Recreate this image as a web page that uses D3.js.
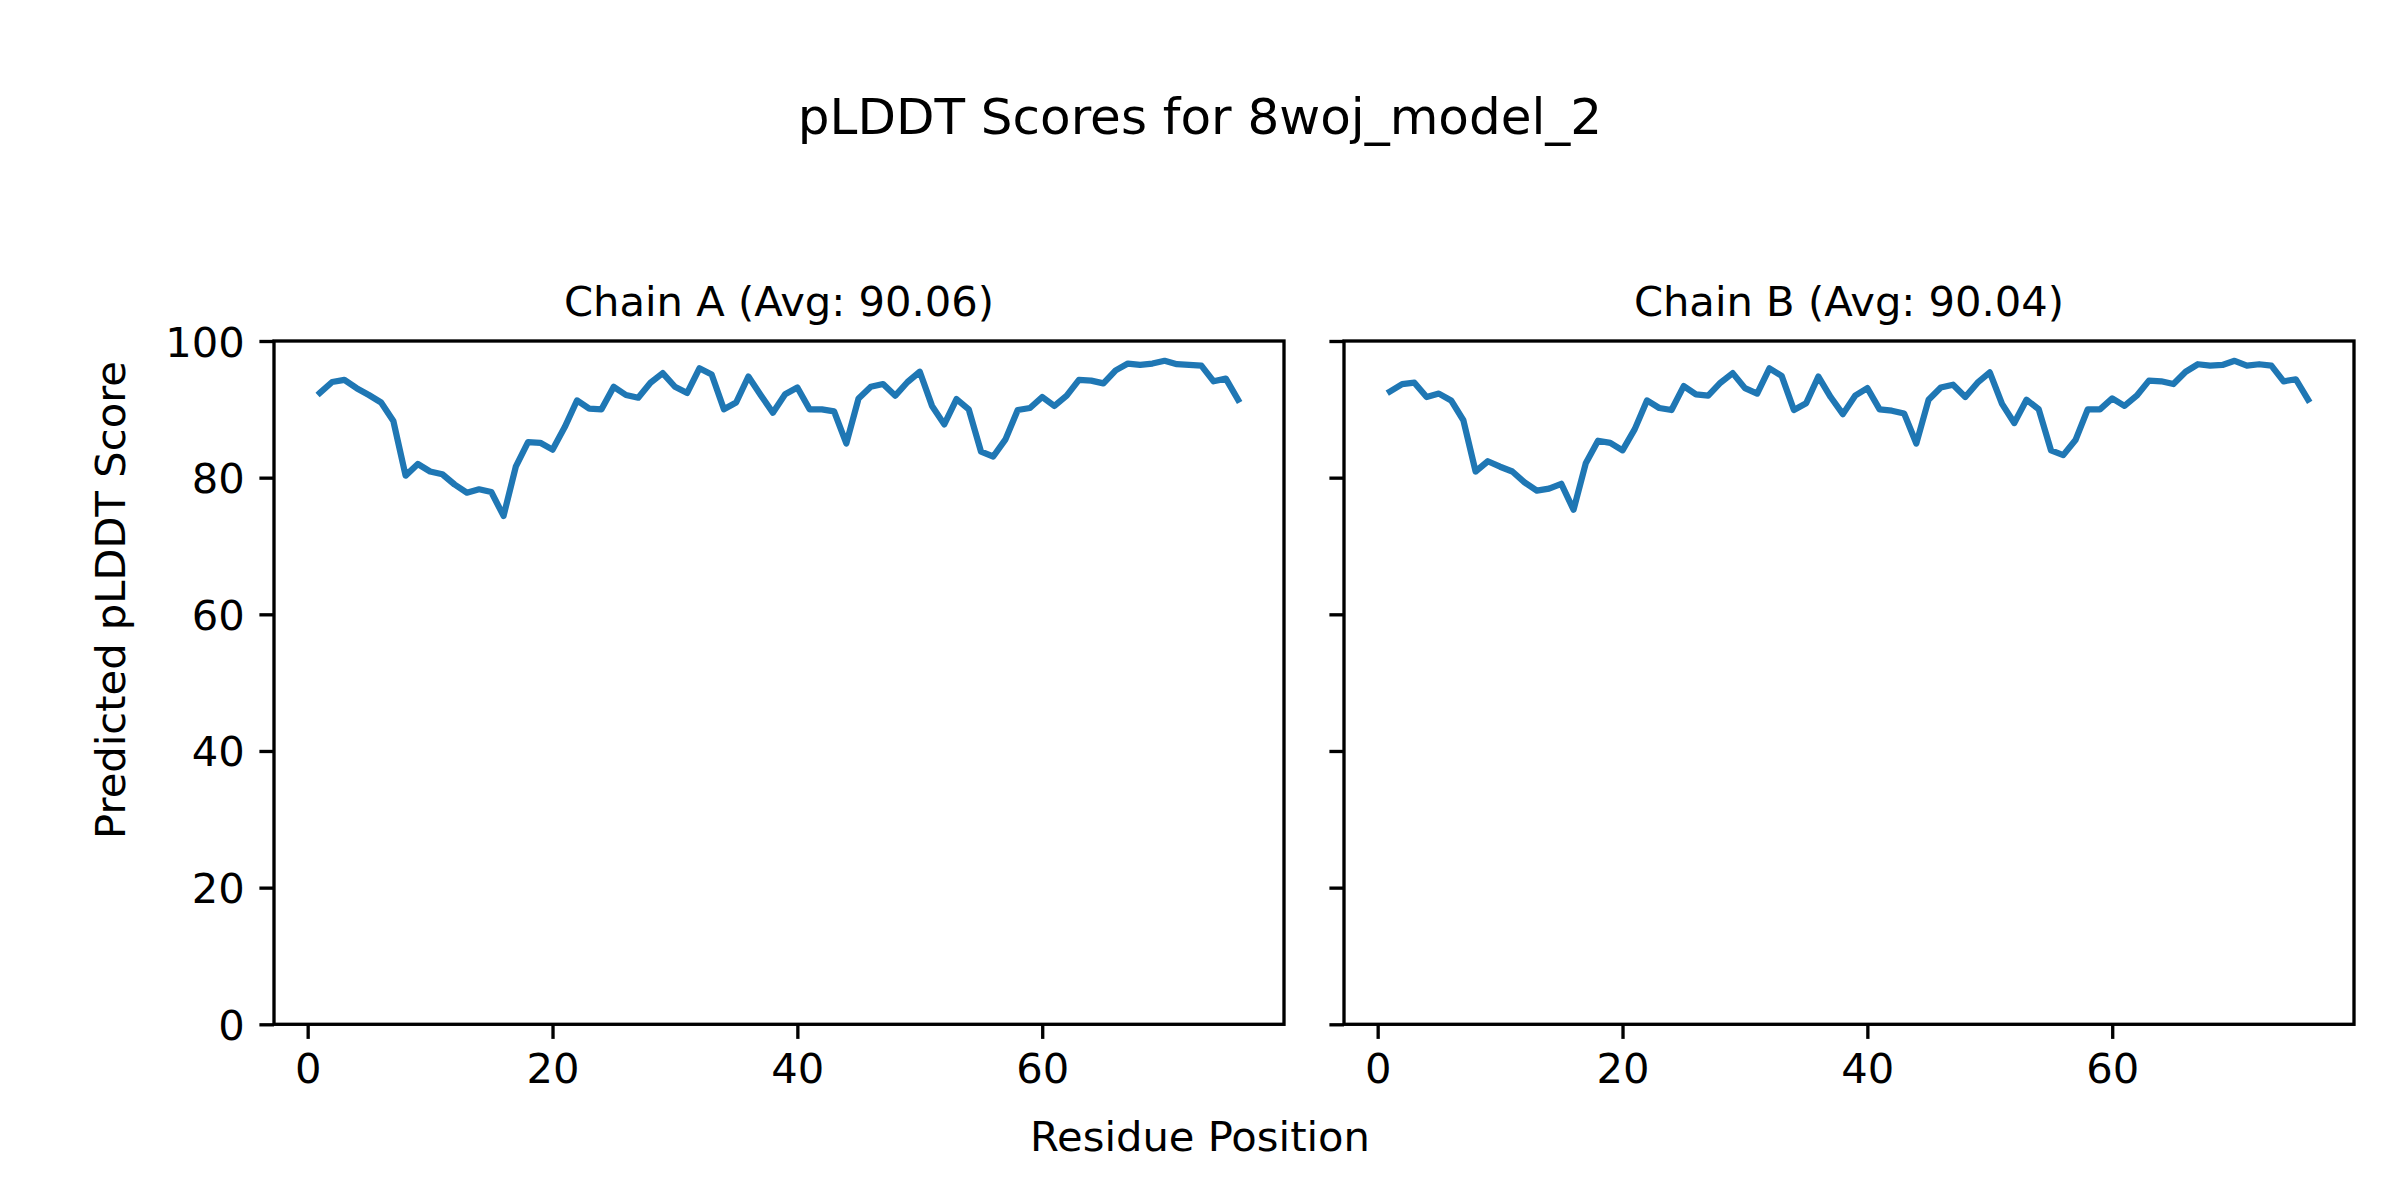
<!DOCTYPE html>
<html>
<head>
<meta charset="utf-8">
<script src="https://cdn.jsdelivr.net/npm/d3@7"></script>
<style>
  body { margin: 0; background: #fff; }
  text { font-family: "DejaVu Sans", sans-serif; fill: #000; }
</style>
</head>
<body>
<div id="container"></div>
<script>
// per-residue pLDDT (residues 1..76)
const chainA = [92.4, 94.0, 94.3, 93.1, 92.1, 91.0, 88.3, 80.3, 82.0, 80.9,
  80.5, 79.0, 77.8, 78.3, 77.9, 74.4, 81.6, 85.2, 85.1, 84.1,
  87.4, 91.3, 90.1, 90.0, 93.3, 92.1, 91.7, 93.9, 95.3, 93.3,
  92.4, 96.0, 95.1, 90.0, 91.0, 94.8, 92.1, 89.5, 92.2, 93.2,
  90.0, 90.0, 89.7, 85.0, 91.6, 93.3, 93.7, 92.0, 94.0, 95.5,
  90.5, 87.8, 91.5, 90.0, 83.8, 83.1, 85.6, 89.9, 90.2, 91.8,
  90.5, 92.0, 94.3, 94.2, 93.8, 95.7, 96.7, 96.5, 96.7, 97.1,
  96.6, 96.5, 96.4, 94.1, 94.5, 91.4];
const chainB = [92.6, 93.7, 93.9, 91.8, 92.3, 91.3, 88.4, 80.9, 82.4, 81.6,
  80.9, 79.3, 78.1, 78.4, 79.1, 75.3, 82.1, 85.4, 85.1, 84.0,
  87.1, 91.3, 90.2, 89.9, 93.4, 92.2, 92.0, 93.9, 95.3, 93.1,
  92.3, 96.0, 94.9, 89.9, 90.9, 94.8, 91.8, 89.3, 92.0, 93.1,
  90.0, 89.8, 89.4, 85.0, 91.4, 93.2, 93.6, 91.8, 93.9, 95.4,
  90.8, 88.0, 91.4, 90.0, 84.0, 83.3, 85.5, 90.0, 90.0, 91.6,
  90.5, 92.0, 94.2, 94.1, 93.7, 95.5, 96.6, 96.4, 96.5, 97.1,
  96.4, 96.6, 96.4, 94.1, 94.4, 91.4];
const chainTitles = ["Chain A (Avg: 90.06)", "Chain B (Avg: 90.04)"];
const xTicks = [0, 20, 40, 60];
const yTicks = [0, 20, 40, 60, 80, 100];

const W = 2400, H = 1200;
const lw = 3.33;      // 0.8pt at 300dpi
const tickLen = 14.6; // 3.5pt

const svg = d3.select("#container").append("svg")
  .attr("width", W).attr("height", H);

// suptitle + shared labels
svg.append("text").attr("x", 1200).attr("y", 134)
  .attr("text-anchor", "middle").style("font-size", "50px")
  .text("pLDDT Scores for 8woj_model_2");
svg.append("text").attr("x", 1200).attr("y", 1151)
  .attr("text-anchor", "middle").style("font-size", "41.67px")
  .text("Residue Position");
svg.append("text")
  .attr("transform", "translate(125,600) rotate(-90)")
  .attr("text-anchor", "middle").style("font-size", "41.67px")
  .text("Predicted pLDDT Score");

const panels = [
  { left: 274, values: chainA, title: chainTitles[0], labels: true },
  { left: 1344, values: chainB, title: chainTitles[1], labels: false }
];
const pw = 1010, plotTop = 341, plotBottom = 1024.3;

const y = d3.scaleLinear().domain([0, 100]).range([plotBottom, plotTop]);

panels.forEach(p => {
  const x = d3.scaleLinear().domain([-2.75, 79.75]).range([p.left, p.left + pw]);
  const g = svg.append("g");

  // line
  const line = d3.line()
    .x((d, i) => x(i + 1))
    .y(d => y(d));
  g.append("path")
    .datum(p.values)
    .attr("d", line)
    .attr("fill", "none")
    .attr("stroke", "#1f77b4")
    .attr("stroke-width", 6.25)
    .attr("stroke-linejoin", "round")
    .attr("stroke-linecap", "square");

  // axes
  const xAxis = d3.axisBottom(x).tickValues(xTicks).tickFormat(d3.format("d"))
    .tickSize(tickLen).tickPadding(tickLen);
  const gx = g.append("g").attr("transform", `translate(0,${plotBottom})`).call(xAxis);

  const yAxis = d3.axisLeft(y).tickValues(yTicks)
    .tickFormat(p.labels ? d3.format("d") : "")
    .tickSize(tickLen).tickPadding(tickLen);
  const gy = g.append("g").attr("transform", `translate(${p.left},0)`).call(yAxis);
  gy.selectAll(".tick text").attr("dy", "0.36em");

  [gx, gy].forEach(a => {
    a.select(".domain").remove();
    a.selectAll(".tick line").attr("stroke", "#000").attr("stroke-width", lw);
    a.selectAll(".tick text")
      .style("font-size", "41.67px")
      .style("font-family", "'DejaVu Sans', sans-serif")
      .attr("fill", "#000");
  });

  // frame
  g.append("rect")
    .attr("x", p.left).attr("y", plotTop)
    .attr("width", pw).attr("height", plotBottom - plotTop)
    .attr("fill", "none").attr("stroke", "#000").attr("stroke-width", lw);

  g.append("text")
    .attr("x", p.left + pw / 2).attr("y", plotTop - 25)
    .attr("text-anchor", "middle").style("font-size", "41.67px")
    .text(p.title);
});
</script>
</body>
</html>
